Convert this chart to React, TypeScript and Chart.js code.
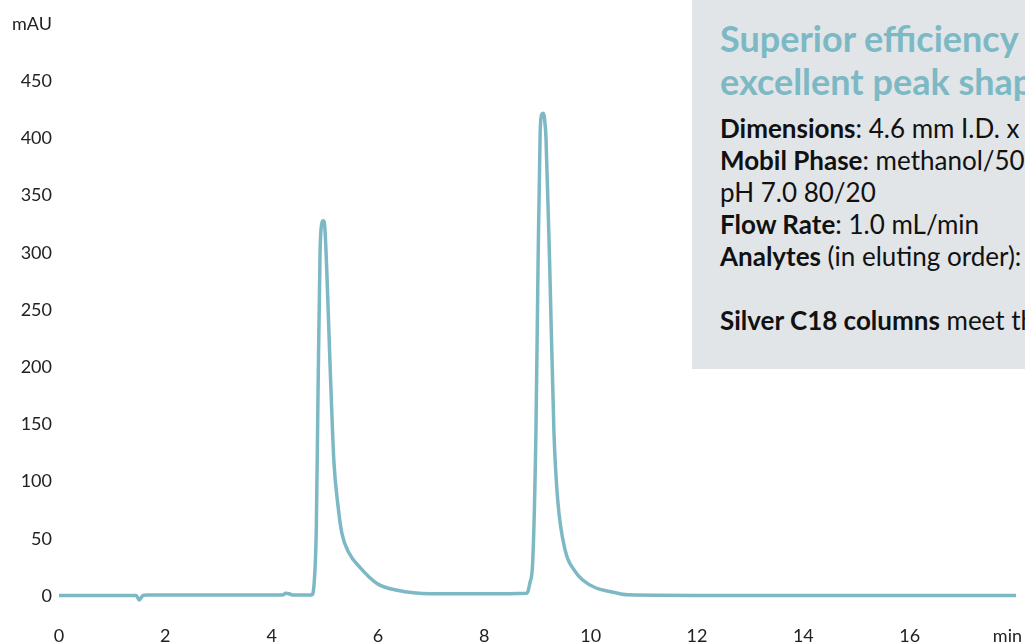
import React, { useEffect, useRef } from "react";
import { Chart, registerables } from "chart.js";

Chart.register(...registerables);

// Retention time (min) and absorbance (mAU)
const timeMin: number[] = [
  0, 1.45, 1.51, 1.58, 1.65, 4.2, 4.27, 4.33, 4.4, 4.75, 4.8, 4.84, 4.87, 4.91, 4.94,
  4.97, 5.0, 5.04, 5.1, 5.17, 5.25, 5.32, 5.45, 5.66, 5.98, 6.36, 7.0, 8.0, 8.8, 8.86,
  8.91, 8.97, 9.01, 9.05, 9.08, 9.11, 9.13, 9.16, 9.23, 9.31, 9.38, 9.52, 9.7, 9.85,
  10.1, 10.36, 10.7, 12, 18,
];
const absorbance: number[] = [
  0.5, 0.5, -3.5, 0.5, 0.8, 0.8, 2.5, 2.0, 0.8, 0.8, 12, 60, 170, 300, 325,
  328, 322, 280, 200, 118, 78, 55, 38, 25, 11, 5, 2, 2, 2.5, 12,
  30, 142, 288, 405, 421, 422, 418, 400, 288, 142, 84, 40, 22, 14,
  7, 4, 1, 0.5, 0.5,
];

const xTicks: number[] = [0, 2, 4, 6, 8, 10, 12, 14, 16, 18];
const yTicks: number[] = [0, 50, 100, 150, 200, 250, 300, 350, 400, 450, 500];
const xUnit = "min";
const yUnit = "mAU";

const titleLines: string[] = ["Superior efficiency &", "excellent peak shape"];

const LINE_COLOR = "#7db8c5";
const TEXT_COLOR = "#222222";
const FONT = "Lato, 'Open Sans', sans-serif";

const xLabelPlugin = {
  id: "xLabels",
  afterDraw(chart: any) {
    const { ctx, scales, width } = chart;
    const x = scales.x;
    ctx.save();
    ctx.font = `18px ${FONT}`;
    ctx.fillStyle = TEXT_COLOR;
    ctx.textBaseline = "middle";
    ctx.textAlign = "center";
    const yPos = chart.chartArea.bottom + 40;
    xTicks.forEach((v, i) => {
      const label = i === xTicks.length - 1 ? xUnit : String(v);
      const w = ctx.measureText(label).width;
      let px = x.getPixelForValue(v);
      px = Math.min(px, width - w / 2 - 3);
      ctx.fillText(label, px, yPos);
    });
    ctx.restore();
  },
};

function ChromChart() {
  const ref = useRef<HTMLCanvasElement | null>(null);
  useEffect(() => {
    if (!ref.current) return;
    const points = timeMin.map((t, i) => ({ x: t, y: absorbance[i] }));
    const chart = new Chart(ref.current, {
      type: "line",
      data: {
        datasets: [
          {
            data: points,
            borderColor: LINE_COLOR,
            borderWidth: 3.5,
            pointRadius: 0,
            fill: false,
            clip: false,
            cubicInterpolationMode: "monotone",
          },
        ],
      },
      options: {
        animation: false,
        responsive: false,
        events: [],
        layout: { padding: { top: 24, right: 9, bottom: 0, left: 0 } },
        plugins: { legend: { display: false }, tooltip: { enabled: false } },
        scales: {
          x: {
            type: "linear",
            min: 0,
            max: 18,
            border: { display: false },
            grid: { display: false, drawTicks: false },
            ticks: { display: false },
            afterFit: (s: any) => {
              s.height = 48;
              s.paddingLeft = 0;
              s.paddingRight = 0;
            },
          },
          y: {
            min: 0,
            max: 500,
            border: { display: false },
            grid: { display: false, drawTicks: false },
            afterBuildTicks: (s: any) => {
              s.ticks = yTicks.map((v) => ({ value: v }));
            },
            ticks: {
              padding: 7,
              color: TEXT_COLOR,
              font: { family: FONT, size: 18 },
              callback: (v: any) => (v === 500 ? yUnit : String(v)),
            },
            afterFit: (s: any) => {
              s.width = 59;
              s.paddingTop = 0;
              s.paddingBottom = 0;
            },
          },
        },
      },
      plugins: [xLabelPlugin],
    } as any);
    return () => chart.destroy();
  }, []);
  return (
    <canvas
      ref={ref}
      width={1025}
      height={644}
      style={{ position: "absolute", left: 0, top: 0, width: 1025, height: 644 }}
    />
  );
}

export default function App() {
  const body: React.CSSProperties = { fontSize: 26, lineHeight: "32px", color: "#111" };
  return (
    <div
      style={{
        position: "absolute",
        left: 0,
        top: 0,
        width: 1025,
        height: 644,
        overflow: "hidden",
        background: "#ffffff",
        fontFamily: FONT,
      }}
    >
      <ChromChart />
      <div
        style={{
          position: "absolute",
          left: 692,
          top: 0,
          width: 460,
          height: 369,
          background: "#e1e5e8",
          boxSizing: "border-box",
          paddingLeft: 28,
          paddingTop: 17,
          whiteSpace: "nowrap",
        }}
      >
        <div style={{ color: LINE_COLOR, fontWeight: 700, fontSize: 36, lineHeight: "43px" }}>
          {titleLines.map((l) => (
            <div key={l}>{l}</div>
          ))}
        </div>
        <div style={{ ...body, marginTop: 9 }}>
          <div>
            <b>Dimensions</b>: 4.6 mm I.D. x 250 mm L
          </div>
          <div>
            <b>Mobil Phase</b>: methanol/50 mM phosphate buffer
          </div>
          <div>pH 7.0 80/20</div>
          <div>
            <b>Flow Rate</b>: 1.0 mL/min
          </div>
          <div>
            <b>Analytes</b> (in eluting order): uracil, toluene
          </div>
          <div>&nbsp;</div>
          <div>
            <b>Silver C18 columns</b> meet the demands
          </div>
        </div>
      </div>
    </div>
  );
}
